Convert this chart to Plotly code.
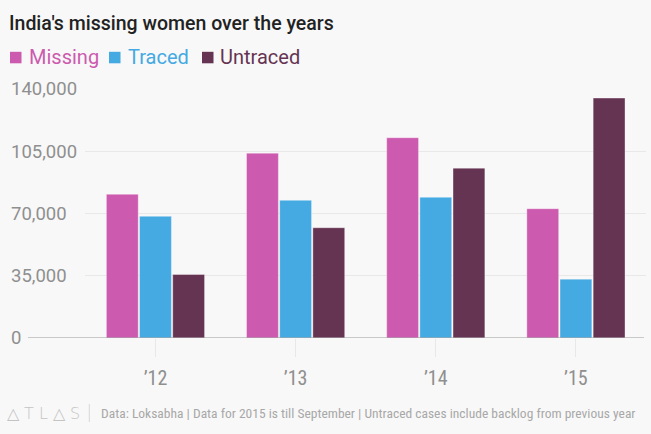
import plotly.graph_objects as go

# ---------------- data ----------------
years = ["’12", "’13", "’14", "’15"]
series_names = ["Missing", "Traced", "Untraced"]
series_colors = ["#cc5aae", "#45a9e2", "#663453"]
missing = [80800, 103900, 112600, 72700]
traced = [68400, 77400, 79100, 33100]
untraced = [35700, 62000, 95500, 134900]
series_values = [missing, traced, untraced]

y_ticks = [0, 35000, 70000, 105000, 140000]
y_tick_labels = ["0", "35,000", "70,000", "105,000", "140,000"]

title_text = "India's missing women over the years"
footer_text = ("Data: Loksabha | Data for 2015 is till September | "
               "Untraced cases include backlog from previous year")
logo_text = "△ T L △ S"

# ---------------- layout geometry (pixels) ----------------
W, H = 651, 434
L, R, T, B = 7, 5, 89, 96
PLOT_LEFT = 85.4


def px_x(x):
    return (x - L) / (W - L - R)


def px_y(y):
    return (H - B - y) / (H - T - B)


BG = "#f8f8f8"
GRID = "#e8e8e8"
TICK_GREY = "#8f8f8f"
FONT = "Roboto"
NARROW = "Liberation Sans Narrow, Roboto Condensed, DejaVu Sans Condensed, Roboto"

fig = go.Figure()
for name, color, vals in zip(series_names, series_colors, series_values):
    fig.add_trace(go.Bar(
        x=years, y=vals, name=name,
        marker=dict(color=color, line=dict(color="rgba(255,255,255,0.35)", width=1)),
        hoverinfo="x+y+name",
    ))

shapes = []
annotations = []

# zero line
shapes.append(dict(type="line", xref="paper", yref="y",
                   x0=px_x(28), x1=px_x(644), y0=0, y1=0,
                   line=dict(color="#9a9a9a", width=1)))

# title
annotations.append(dict(text=title_text, xref="paper", yref="paper",
                        x=px_x(7), y=px_y(23), xanchor="left", yanchor="middle",
                        showarrow=False,
                        font=dict(family=FONT, size=19.5, color="#222222", weight=500)))

# legend (squares + coloured text)
legend_sq_x = [10, 109, 202]
legend_txt_x = [27, 126, 218]
for name, color, sx, tx in zip(series_names, series_colors, legend_sq_x, legend_txt_x):
    shapes.append(dict(type="rect", xref="paper", yref="paper",
                       x0=px_x(sx), x1=px_x(sx + 11.5),
                       y0=px_y(63.3), y1=px_y(51.8),
                       fillcolor=color, line=dict(width=0)))
    annotations.append(dict(text=name, xref="paper", yref="paper",
                            x=px_x(tx), y=px_y(57), xanchor="left", yanchor="middle",
                            showarrow=False,
                            font=dict(family=FONT, size=20, color=color)))

# footer
annotations.append(dict(text=logo_text, xref="paper", yref="paper",
                        x=px_x(5), y=px_y(413), xanchor="left", yanchor="middle",
                        showarrow=False,
                        font=dict(family="DejaVu Sans", size=16, color="#c4c4c4", weight=200)))
shapes.append(dict(type="line", xref="paper", yref="paper",
                   x0=px_x(89.3), x1=px_x(89.3), y0=px_y(404), y1=px_y(422),
                   line=dict(color="#d8d8d8", width=1)))
annotations.append(dict(text=footer_text, xref="paper", yref="paper",
                        x=px_x(99), y=px_y(413), xanchor="left", yanchor="middle",
                        showarrow=False,
                        font=dict(family=NARROW, size=13.5, color="#a8a8a8")))

fig.update_layout(
    width=W, height=H,
    margin=dict(l=L, r=R, t=T, b=B, pad=0),
    paper_bgcolor=BG, plot_bgcolor=BG,
    barmode="group", bargap=0.29, bargroupgap=0.04,
    showlegend=False,
    shapes=shapes, annotations=annotations,
    xaxis=dict(
        domain=[px_x(PLOT_LEFT), 1], anchor="y",
        range=[-0.5, 3.5], type="category",
        showgrid=False, showline=False, zeroline=False,
        ticks="outside", ticklen=18, tickwidth=1, tickcolor=GRID,
        tickfont=dict(family=NARROW, size=20, color=TICK_GREY),
        ticklabelstandoff=4,
    ),
    yaxis=dict(
        range=[0, 140000], anchor="free", position=0,
        tickvals=y_ticks, ticktext=y_tick_labels,
        ticklabelposition="inside", ticklabeloverflow="allow",
        showgrid=True, gridcolor=GRID, gridwidth=1,
        zeroline=False, showline=False, ticks="",
        tickfont=dict(family=FONT, size=18.5, color=TICK_GREY),
    ),
)

fig.write_html(
    "out.html",
    config={"displayModeBar": False},
    post_script="document.body.style.margin='0';document.body.style.padding='0';"
                "document.body.style.background='#f8f8f8';",
)
